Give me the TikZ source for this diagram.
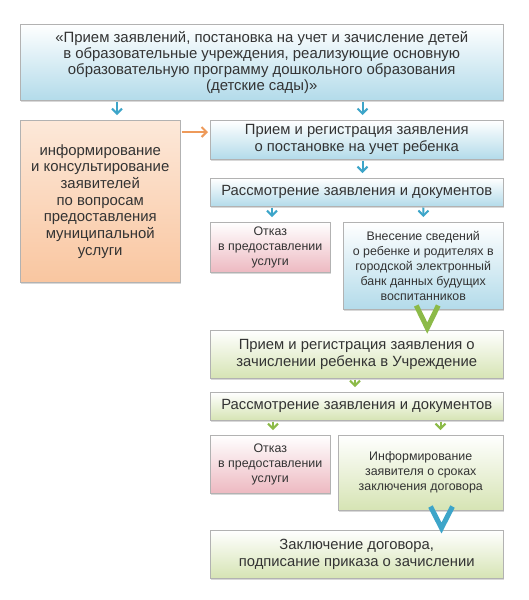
\documentclass[tikz,border=0pt]{standalone}
\usepackage{fontspec}
\setmainfont{Liberation Sans}
\usetikzlibrary{arrows.meta,shadows}
\definecolor{boxblue}{HTML}{B3DBEA}
\definecolor{boxorange}{HTML}{F9C6A0}
\definecolor{boxred}{HTML}{EDB9C1}
\definecolor{boxgreen}{HTML}{D6E4B4}
\definecolor{arrblue}{HTML}{3DA5C9}
\definecolor{arrorange}{HTML}{EE9A5A}
\definecolor{arrgreen}{HTML}{8CBA48}

\begin{document}
\begin{tikzpicture}[x=1pt,y=-1pt,
  box/.style={draw=black!30, line width=.5pt, anchor=north west, align=center,
    inner sep=0pt, text=black!80,
    drop shadow={shadow xshift=1pt, shadow yshift=-1.5pt, opacity=.3}},
  bluebox/.style={box, top color=white, bottom color=boxblue},
  orangebox/.style={box, top color=white!60!boxorange, bottom color=boxorange},
  redbox/.style={box, top color=white, bottom color=boxred},
  greenbox/.style={box, top color=white, bottom color=boxgreen},
  big/.style={font=\fontsize{14.8}{17}\selectfont},
  small/.style={font=\fontsize{12.4}{15}\selectfont},
  sarrow/.style={line width=2pt, -{Straight Barb[length=5pt,width=10pt]}, shorten <=1pt, shorten >=5pt},
  bigv/.style={line width=5pt, line join=miter}]

\useasboundingbox[fill=white] (0,0) rectangle (528,600);

% first stage
\node[bluebox, minimum width=483pt, minimum height=76pt, font=\fontsize{14.9}{16}\selectfont] (top) at (20,24)
  {«Прием заявлений, постановка на учет и зачисление детей\\в образовательные учреждения, реализующие основную\\образовательную программу дошкольного образования\\(детские сады)»};
\node[orangebox, minimum width=160pt, minimum height=162pt, font=\fontsize{14.9}{16.7}\selectfont] (info) at (20,120)
  {информирование\\и консультирование\\заявителей\\по вопросам\\предоставления\\муниципальной\\услуги};
\node[bluebox, big, minimum width=293pt, minimum height=39pt] (reg1) at (210,120)
  {Прием и регистрация заявления\\о постановке на учет ребенка};
\node[bluebox, big, minimum width=293pt, minimum height=28pt] (rev1) at (210,178)
  {Рассмотрение заявления и документов};
\node[redbox, small, minimum width=120pt, minimum height=50pt] (ref1) at (210,222)
  {Отказ\\в предоставлении\\услуги};
\node[bluebox, small, minimum width=160pt, minimum height=87pt] (add) at (343,222)
  {Внесение сведений\\о ребенке и родителях в\\городской электронный\\банк данных будущих\\воспитанников};

% second stage
\node[greenbox, big, minimum width=293pt, minimum height=48pt] (reg2) at (210,330)
  {Прием и регистрация заявления о\\зачислении ребенка в Учреждение};
\node[greenbox, big, minimum width=293pt, minimum height=28pt] (rev2) at (210,392)
  {Рассмотрение заявления и документов};
\node[redbox, small, minimum width=120pt, minimum height=58pt] (ref2) at (210,435)
  {Отказ\\в предоставлении\\услуги};
\node[greenbox, small, minimum width=165pt, minimum height=75pt] (notify) at (338,435)
  {Информирование\\заявителя о сроках\\заключения договора};
\node[greenbox, big, minimum width=293pt, minimum height=48pt] (final) at (210,530)
  {Заключение договора,\\подписание приказа о зачислении};

% connectors
\draw[sarrow, arrblue] ([xshift=97pt]top.south west) -- ([xshift=97pt]info.north west);
\draw[sarrow, arrblue] ([xshift=-141pt]top.south east) -- ([xshift=-141pt]reg1.north east);
\draw[sarrow, arrorange, shorten >=2pt] ([yshift=-12pt]info.north east) -- ([yshift=-12pt]reg1.north west);
\draw[sarrow, arrblue] ([xshift=-141pt]reg1.south east) -- ([xshift=-141pt]rev1.north east);
\draw[sarrow, arrblue] ([xshift=62pt]rev1.south west) -- ([xshift=62pt]ref1.north west);
\draw[sarrow, arrblue] ([xshift=-80pt]rev1.south east) -- (add.north);
\draw[bigv, arrgreen] ([xshift=-7pt,yshift=4pt]add.south) -- ([xshift=4pt,yshift=2pt]reg2.north -| add.south)
  -- ([xshift=15pt,yshift=4pt]add.south);
\draw[sarrow, arrgreen] ([xshift=145pt]reg2.south west) -- ([xshift=145pt]rev2.north west);
\draw[sarrow, arrgreen] ([xshift=63pt]rev2.south west) -- ([xshift=63pt]ref2.north west);
\draw[sarrow, arrgreen] ([xshift=-63pt]rev2.south east) -- ([xshift=-63pt]notify.north east);
\draw[bigv, arrblue] ([xshift=-73pt,yshift=4pt]notify.south east) -- ([xshift=-62pt,yshift=2pt]final.north east)
  -- ([xshift=-51pt,yshift=4pt]notify.south east);
\end{tikzpicture}
\end{document}
